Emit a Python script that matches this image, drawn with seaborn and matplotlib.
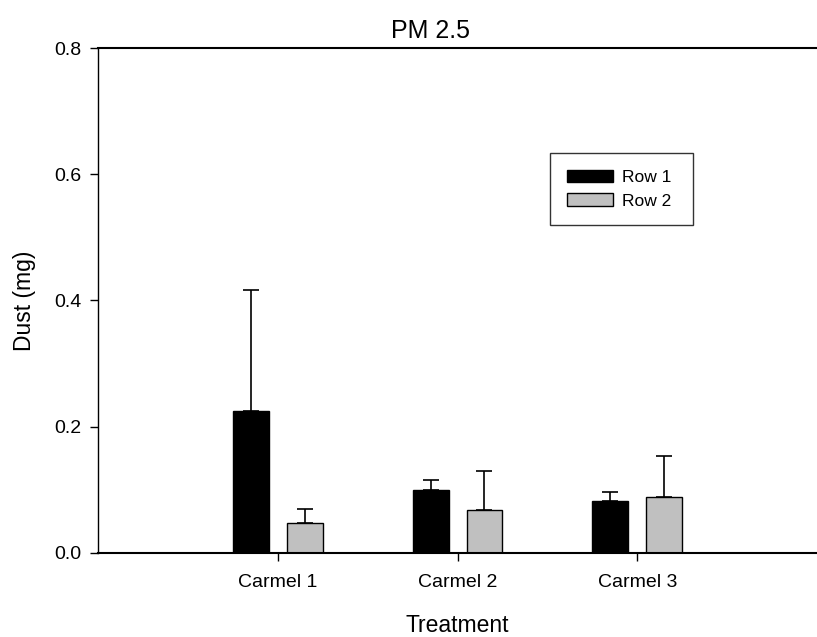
import seaborn as sns
import matplotlib.pyplot as plt
import numpy as np
import pandas as pd

# Datos
treatments = ["Carmel 1", "Carmel 2", "Carmel 3"]
rows = ["Row 1", "Row 2"]
row1_mean = [0.225, 0.099, 0.082]
row2_mean = [0.047, 0.068, 0.089]
row1_err = [0.192, 0.017, 0.015]
row2_err = [0.023, 0.062, 0.065]

df = pd.DataFrame({
    "Treatment": treatments * 2,
    "Row": [rows[0]] * 3 + [rows[1]] * 3,
    "Dust": row1_mean + row2_mean,
    "Err": row1_err + row2_err,
})

sns.set_style("white")
plt.rcParams["font.family"] = ["Liberation Sans", "DejaVu Sans"]
plt.rcParams["text.color"] = "black"
plt.rcParams["axes.labelcolor"] = "black"
plt.rcParams["xtick.color"] = "black"
plt.rcParams["ytick.color"] = "black"

fig = plt.figure(figsize=(8.17, 6.37), dpi=100)
ax = fig.add_axes([0.12, 0.132, 0.88, 0.7926])

sns.barplot(
    data=df, x="Treatment", y="Dust", hue="Row",
    order=treatments, hue_order=rows,
    palette=["black", "#c0c0c0"],
    width=0.6, gap=1/3, edgecolor="black", linewidth=1,
    errorbar=None, ax=ax,
)

# Barras de error (solo la mitad superior)
for container, r in zip(ax.containers, rows):
    sub = df[df["Row"] == r].set_index("Treatment").loc[treatments]
    xs = [p.get_x() + p.get_width() / 2 for p in container.patches]
    ax.errorbar(xs, sub["Dust"], yerr=[np.zeros(3), sub["Err"]],
                fmt="none", ecolor="black", elinewidth=1.2,
                capsize=6, capthick=1.2)

ax.set_xlim(-1, 3)
ax.set_ylim(0, 0.8)
ax.set_yticks([0.0, 0.2, 0.4, 0.6, 0.8])
ax.set_yticklabels(["0.0", "0.2", "0.4", "0.6", "0.8"])

ax.spines["right"].set_visible(False)
for s in ["left", "top", "bottom"]:
    ax.spines[s].set_color("black")
    ax.spines[s].set_linewidth(1.5)
ax.spines["left"].set_linewidth(1.0)

ax.tick_params(axis="both", direction="out", length=6, width=1, color="black",
               bottom=True, left=True, labelsize=14, labelcolor="black")
ax.tick_params(axis="x", pad=9)
ax.tick_params(axis="y", pad=6)

ax.set_xlabel("Treatment", fontsize=16.5, labelpad=17)
ax.set_ylabel("Dust (mg)", fontsize=16.5, labelpad=13)
ax.set_title("PM 2.5", fontsize=18, pad=7, x=0.462)

leg = ax.legend(loc="upper left", bbox_to_anchor=(0.6287, 0.642, 0.1989, 0.15),
                mode="expand", frameon=True,
                fancybox=False, edgecolor="black", fontsize=12.5,
                handlelength=2.7, handleheight=0.7, borderpad=0.95,
                labelspacing=0.5, borderaxespad=0, handletextpad=0.5)
leg.get_frame().set_linewidth(1)

fig.savefig("out.png", dpi=100)
